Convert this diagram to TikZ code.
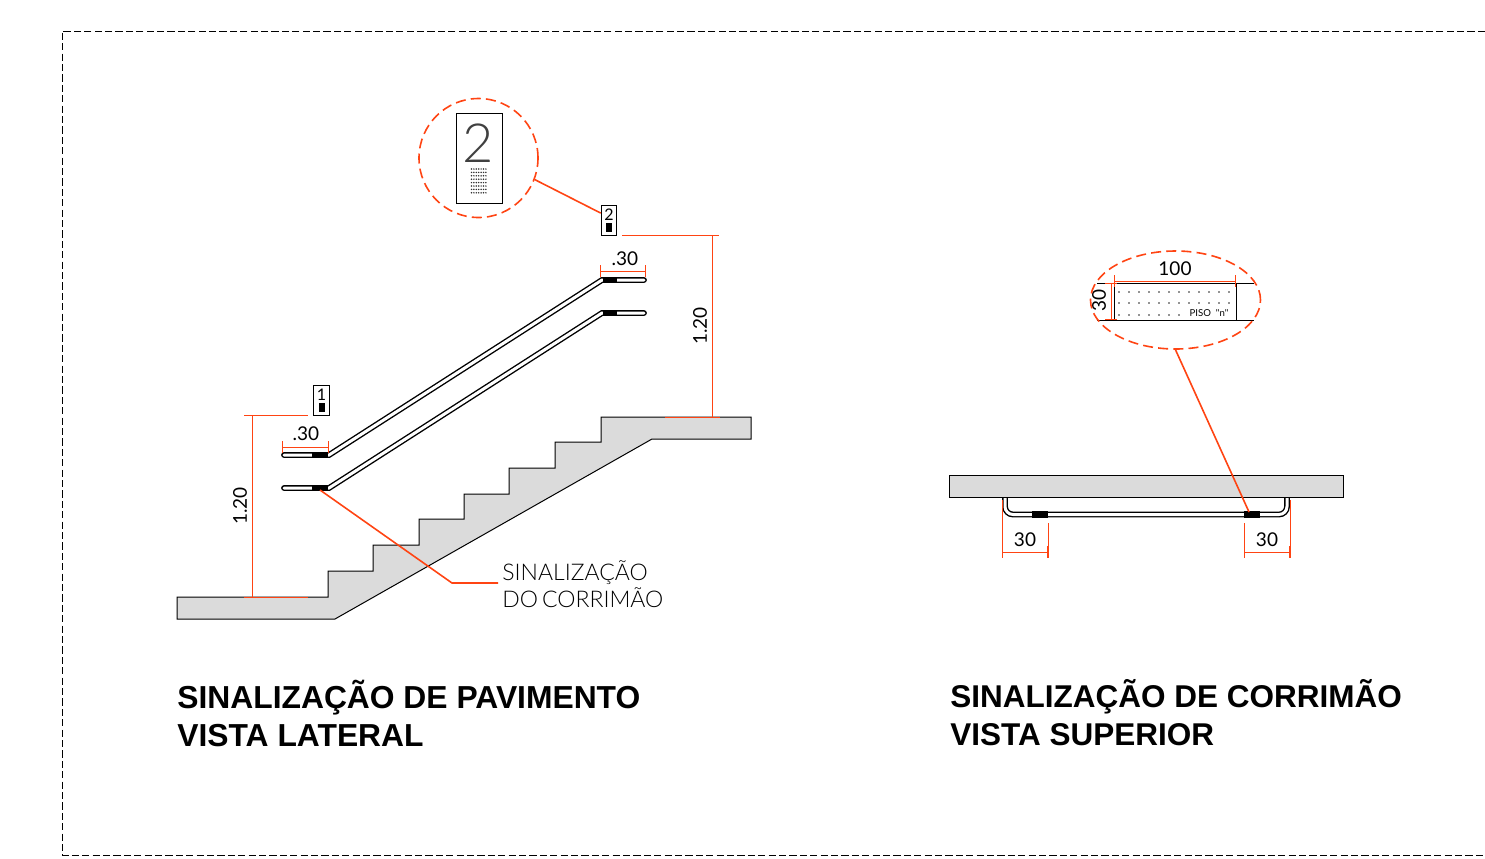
\documentclass[tikz,border=0pt]{standalone}
\usepackage{fontspec}
\setmainfont{Liberation Sans}
\newfontfamily\cadfont{Lato Light}
\newfontfamily\cotafont{Lato}
\usetikzlibrary{positioning,shapes.geometric}
\definecolor{cotared}{HTML}{FF4413}
\definecolor{concreto}{HTML}{DBDBDB}
\tikzset{
	corrimao/.style={draw=black,line width=0.7pt,double=white,double distance=1.5pt,line cap=round},
	marca/.style={fill=black,draw=none},
	cota/.style={draw=cotared,line width=0.45pt},
	leader/.style={draw=cotared,line width=0.8pt},
	bolha/.style={draw=cotared,dashed,dash pattern=on 5pt off 2.6pt,line width=0.8pt,inner sep=0pt},
	dimtext/.style={font=\cotafont\fontsize{9.5}{10}\selectfont,inner sep=0pt},
	plaquinha/.style={draw=black,line width=0.4pt,fill=white,minimum width=7.8pt,minimum height=15pt,inner sep=0pt},
	titulo/.style={font=\bfseries\fontsize{15.9}{19}\selectfont,align=left,inner sep=0pt,anchor=west}
}
\begin{document}
\begin{tikzpicture}[x=0.5pt,y=-0.5pt,line join=miter]
	\useasboundingbox (0,0) rectangle (1485,858);
	% moldura
	\draw[line width=0.5pt,dash pattern=on 3.6pt off 1.6pt] (1485,31) -- (62,31) -- (62,855) -- (1485,855);

	% escada
	\draw[fill=concreto,line width=0.5pt] (177,597) -- (328,597) -- (328,571) -- (373,571) -- (373,545)
		-- (419,545) -- (419,519) -- (464,519) -- (464,494) -- (509,494) -- (509,468) -- (555,468)
		-- (555,442) -- (601,442) -- (601,417) -- (751,417) -- (751,439) -- (652,439) -- (335,619)
		-- (177,619) -- cycle;

	% corrimaos
	\draw[corrimao] (284,455) -- (329,455) -- (602,280) -- (644,280);
	\draw[corrimao] (284,488) -- (329,488) -- (602,313) -- (644,313);
	\fill[marca] (312,452) rectangle (328,458);
	\fill[marca] (312,485) rectangle (328,491);
	\fill[marca] (603,277) rectangle (617,283);
	\fill[marca] (603,310) rectangle (617,316);

	% detalhe do pavimento
	\node[bolha,circle,minimum size=59.5pt] (detalhepav) at (478.5,158) {};
	\node[draw=black,line width=0.5pt,minimum width=23pt,minimum height=45pt,inner sep=0pt] (placa) at (479,158) {};
	\node[font=\cadfont\fontsize{27}{27}\selectfont,text=black!75,inner sep=0pt] (numplaca) at (478,143) {2};
	\foreach \i in {0,...,7}
		\foreach \j in {0,...,6}
			\fill[black!80] (471.5+\j*2.4,169+\i*3.4) circle (0.42pt);
	\node[plaquinha] (tag2) at (609,220) {};
	\node[font=\cotafont\fontsize{8}{8}\selectfont,inner sep=0pt] (num2) at (609,215) {2};
	\fill[marca] (606,223) rectangle (612,232);
	\node[plaquinha] (tag1) at (321.5,400.5) {};
	\node[font=\cotafont\fontsize{8}{8}\selectfont,inner sep=0pt] (num1) at (321.5,395) {1};
	\fill[marca] (319,403) rectangle (325,412);
	\draw[leader] (detalhepav.-21) -- (tag2.140);

	% cotas da vista lateral
	\coordinate (cotaA) at (282,447);
	\coordinate (cotaB) at (329,447);
	\draw[cota,|-|] (cotaA) -- (cotaB);
	\node[dimtext] (trintaA) at (306,434) {.30};
	\coordinate (cotaC) at (600,271);
	\coordinate (cotaD) at (646,271);
	\draw[cota,|-|] (cotaC) -- (cotaD);
	\node[dimtext] (trintaB) at (625,259) {.30};
	\draw[cota] (244,415.3) -- (308,415.3);
	\draw[cota] (244,597) -- (308,597);
	\draw[cota] (252,415) -- (252,597);
	\node[dimtext,rotate=90] (alturaA) at (240,506) {1.20};
	\draw[cota] (622,235.3) -- (719,235.3);
	\draw[cota] (665,417) -- (720,417);
	\draw[cota] (712,235) -- (712,417);
	\node[dimtext,rotate=90] (alturaB) at (700,326) {1.20};

	% chamada do corrimao
	\coordinate (marcaC) at (320,490);
	\coordinate (dobra) at (452,583);
	\node[font=\cadfont\fontsize{11.5}{13.5}\selectfont,align=left,inner sep=0pt,anchor=west] (sinal) at (502,584) {SINALIZAÇÃO\\DO\hspace{2pt}CORRIMÃO};
	\draw[leader] (marcaC) -- (dobra) -- (498,583);

	% vista superior
	\draw[corrimao,rounded corners=4pt] (1005,490) -- (1005,514.5) -- (1287,514.5) -- (1287,490);
	\draw[fill=concreto,line width=0.5pt] (949,475) rectangle (1343,497);
	\fill[marca] (1032,511) rectangle (1048,518);
	\fill[marca] (1244,511) rectangle (1260,518);
	\coordinate (marcaD) at (1249,512);

	% cotas da vista superior
	\draw[cota] (1002,500) -- (1002,558);
	\draw[cota] (1048,523) -- (1048,558);
	\draw[cota,|-|] (1002,552) -- (1048,552);
	\node[dimtext] (trintaC) at (1025,540) {30};
	\draw[cota] (1244,523) -- (1244,558);
	\draw[cota] (1290,500) -- (1290,558);
	\draw[cota,|-|] (1244,552) -- (1290,552);
	\node[dimtext] (trintaD) at (1267,540) {30};

	% detalhe do piso
	\draw[line width=0.5pt] (1097,283) -- (1254,283);
	\draw[line width=0.5pt] (1097,320) -- (1254,320);
	\draw[line width=0.4pt] (1114,283) -- (1114,320);
	\draw[line width=0.4pt] (1236,283) -- (1236,320);
	\foreach \i in {0,...,11}
	{
		\fill[black!85] (1119+\i*10,292) circle (0.42pt);
		\fill[black!85] (1119+\i*10,303) circle (0.42pt);
	}
	\foreach \i in {0,...,6}
		\fill[black!85] (1119+\i*10,315) circle (0.42pt);
	\node[font=\cotafont\fontsize{4.8}{5}\selectfont,inner sep=0pt] (piso) at (1209,313) {PISO \ "n"};
	\draw[cota,|-|] (1114,281) -- (1236,281);
	\node[dimtext] (cem) at (1175,269) {100};
	\draw[cota,|-|] (1111,283) -- (1111,320);
	\node[dimtext,rotate=90] (trintaE) at (1099,300) {30};
	\node[bolha,ellipse,minimum width=85pt,minimum height=49pt] (detalhepiso) at (1175.5,300) {};
	\draw[leader] (detalhepiso.south) -- (marcaD);

	% titulos
	\node[titulo] (tituloA) at (177,713) {SINALIZAÇÃO DE PAVIMENTO\\VISTA LATERAL};
	\node[titulo,font=\bfseries\fontsize{15.75}{19}\selectfont] (tituloB) at (950,713) {SINALIZAÇÃO DE CORRIMÃO\\VISTA SUPERIOR};
\end{tikzpicture}
\end{document}
